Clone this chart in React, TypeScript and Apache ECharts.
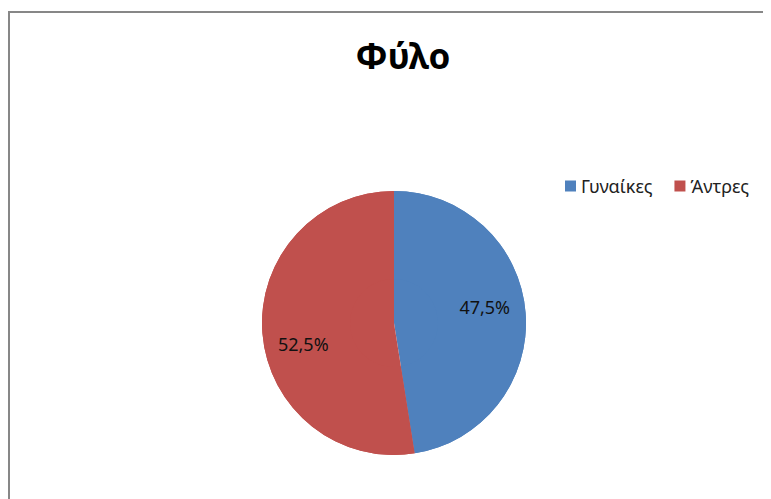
import React, { useEffect, useRef } from "react";
import * as echarts from "echarts";

const titleText = "Φύλο";
const categories = ["Γυναίκες", "Άντρες"];
const values = [47.5, 52.5];
const colors = ["#4F81BD", "#C0504D"];

const FONT = "'Noto Sans', 'Open Sans', sans-serif";

export default function App() {
  const ref = useRef<HTMLDivElement>(null);
  useEffect(() => {
    if (!ref.current) return;
    const chart = echarts.init(ref.current, null, { renderer: "svg" });
    const data = categories.map((name, i) => ({ name, value: values[i] }));
    const labelData = categories.map((name, i) => ({
      name,
      value: values[i],
      label: { offset: i === 0 ? [0, -9] : [0, 14] },
    }));
    chart.setOption({
      animation: false,
      backgroundColor: "#ffffff",
      color: colors,
      title: {
        text: titleText,
        left: 390,
        top: 25,
        textAlign: "center",
        textStyle: { fontFamily: FONT, fontWeight: "bold", fontSize: 35, color: "#000" },
      },
      legend: {
        data: categories,
        left: 552,
        top: 164,
        orient: "horizontal",
        icon: "rect",
        itemWidth: 11,
        itemHeight: 11,
        itemGap: 22,
        textStyle: { fontFamily: FONT, fontSize: 18, color: "#222", padding: [0, 0, 0, 0] },
      },
      graphic: [
        {
          type: "line",
          shape: { x1: 1, y1: 4, x2: 1, y2: 600 },
          style: { stroke: "#878787", lineWidth: 2 },
          silent: true,
        },
        {
          type: "line",
          shape: { x1: 0, y1: 4, x2: 900, y2: 4 },
          style: { stroke: "#878787", lineWidth: 2 },
          silent: true,
        },
      ],
      series: [
        {
          type: "pie",
          center: [386, 315],
          radius: [0, 132],
          startAngle: 90,
          clockwise: true,
          silent: true,
          label: { show: false },
          labelLine: { show: false },
          itemStyle: { borderWidth: 0 },
          data,
        },
        {
          type: "pie",
          center: [386, 315],
          radius: [44, 132],
          startAngle: 90,
          clockwise: true,
          silent: true,
          label: {
            show: true,
            position: "inside",
            fontFamily: FONT,
            fontSize: 18,
            color: "#111",
            formatter: (p: any) => p.value.toFixed(1).replace(".", ",") + "%",
          },
          labelLine: { show: false },
          itemStyle: { borderWidth: 0 },
          data: labelData,
        },
      ],
    });
    return () => chart.dispose();
  }, []);
  return <div ref={ref} style={{ width: 763, height: 491 }} />;
}
